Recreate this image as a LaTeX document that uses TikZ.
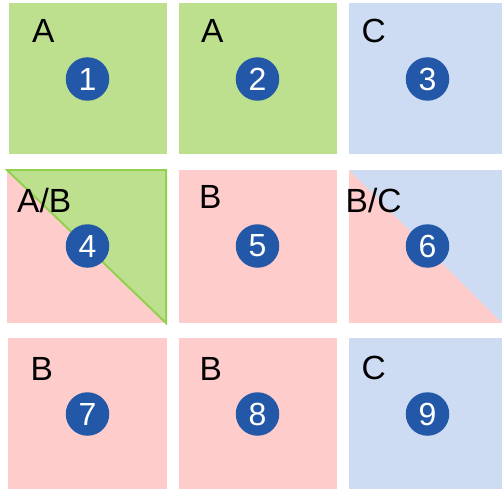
\documentclass[tikz,border=0pt]{standalone}
\usepackage{fontspec}
\setmainfont{Liberation Sans}
\definecolor{gfill}{RGB}{189,224,143}
\definecolor{gline}{RGB}{146,208,80}
\definecolor{pfill}{RGB}{255,204,204}
\definecolor{bfill}{RGB}{205,219,243}
\definecolor{numblue}{RGB}{34,88,167}
\begin{document}
\begin{tikzpicture}[x=1pt,y=-1pt,
  num/.style={circle,fill=numblue,text=white,minimum size=43.5pt,inner sep=0pt,font=\fontsize{32}{32}\selectfont},
  lab/.style={anchor=base west,inner sep=0pt,text=black,font=\fontsize{33.5}{33.5}\selectfont}]
\useasboundingbox (0,0) rectangle (502,489);
% row 1
\fill[gfill] (9,3) rectangle (167,154);
\fill[gfill] (179,3) rectangle (337,154);
\fill[bfill] (349,3) rectangle (502,154);
% row 2
\fill[pfill] (7,170) rectangle (167,323);
\filldraw[fill=gfill,draw=gline,line width=2pt,line join=miter] (7,170) -- (166,170) -- (166,323) -- cycle;
\fill[pfill] (179,170) rectangle (337,323);
\fill[pfill] (349,170) rectangle (502,323);
\fill[bfill] (349,170) -- (502,170) -- (502,323) -- cycle;
% row 3
\fill[pfill] (8,338) rectangle (167,489);
\fill[pfill] (179,338) rectangle (337,489);
\fill[bfill] (349,338) rectangle (502,489);
% numbers
\node[num] (n1) at (87.5,79) {1};
\node[num] (n2) at (257.5,79) {2};
\node[num] (n3) at (427.5,79) {3};
\node[num] (n4) at (87.5,246) {4};
\node[num] (n5) at (257.5,246) {5};
\node[num] (n6) at (427.5,246) {6};
\node[num] (n7) at (87.5,414) {7};
\node[num] (n8) at (257.5,414) {8};
\node[num] (n9) at (427.5,414) {9};
% labels
\node[lab] (l1) at (32,43) {A};
\node[lab] (l2) at (201,43) {A};
\node[lab] (l3) at (361.5,43) {C};
\node[lab] (l4) at (17,212) {A/B};
\node[lab] (l5) at (199,208.5) {B};
\node[lab] (l6) at (345.5,212) {B/C};
\node[lab] (l7) at (30.5,380) {B};
\node[lab] (l8) at (199.5,380) {B};
\node[lab] (l9) at (361.5,379.5) {C};
\end{tikzpicture}
\end{document}
